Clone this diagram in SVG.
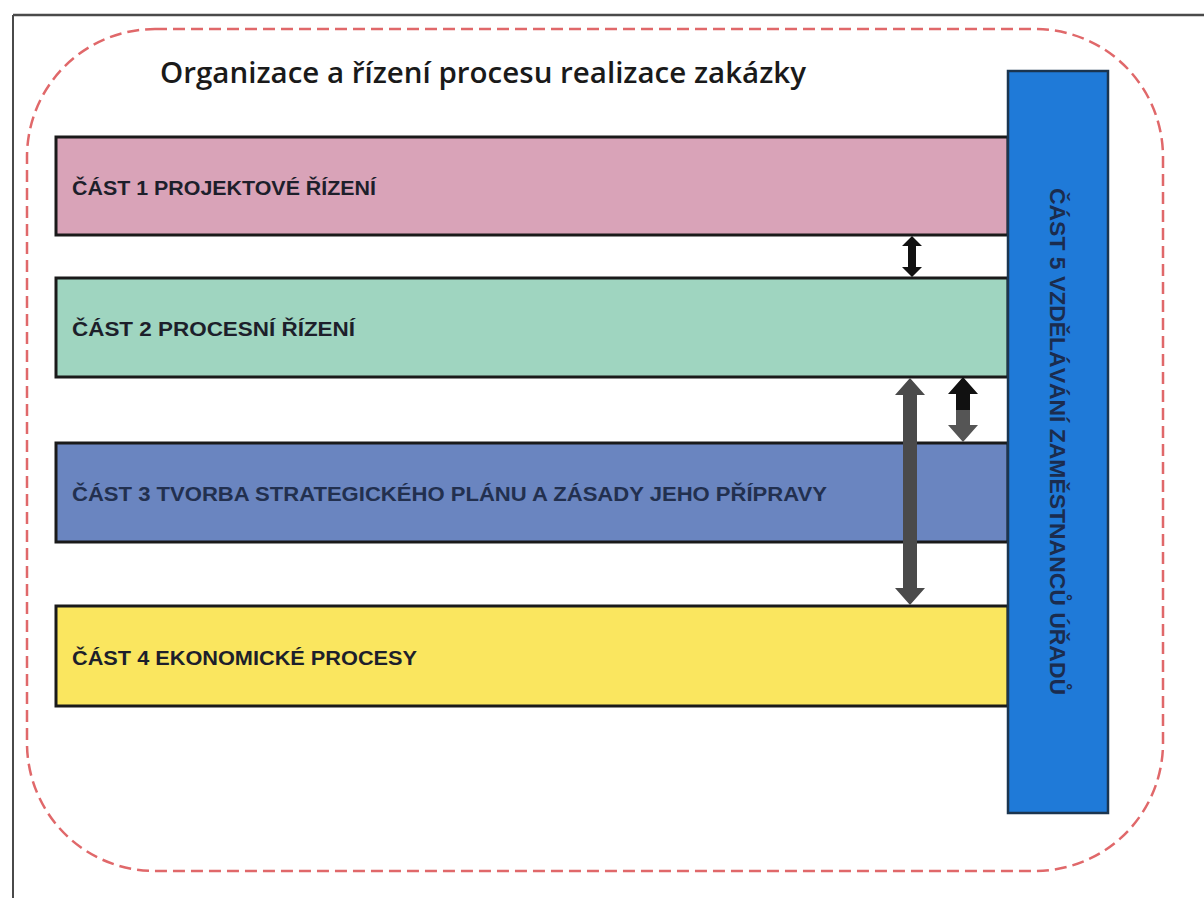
<svg xmlns="http://www.w3.org/2000/svg" width="1204" height="898" viewBox="0 0 1204 898">
<defs>
<style>
.bar{stroke:#1a1a1a;stroke-width:3}
.lbl{font-family:"Liberation Sans","DejaVu Sans",sans-serif;font-weight:bold;font-size:21px;fill:#1d1f2b}
.title{font-family:"Open Sans","Liberation Sans",sans-serif;font-weight:600;font-size:28px;fill:#1a1a1a}
</style>
</defs>
<rect width="1204" height="898" fill="#ffffff"/>
<g id="frame">
<line x1="13" y1="15" x2="1204" y2="15" stroke="#4a4a4a" stroke-width="2.5"/>
<line x1="13" y1="15" x2="13" y2="898" stroke="#4a4a4a" stroke-width="2"/>
<rect x="27" y="29" width="1136" height="842" rx="128" ry="128" fill="none" stroke="#e0686a" stroke-width="2.5" stroke-dasharray="12 6"/>
</g>
<g id="title">
<text class="title" x="160" y="83" textLength="646" lengthAdjust="spacingAndGlyphs">Organizace a řízení procesu realizace zakázky</text>
</g>
<g id="part1">
<rect class="bar" x="56" y="137" width="952" height="98" fill="#d9a3b8"/>
<text class="lbl" x="72" y="195" textLength="304" lengthAdjust="spacingAndGlyphs">ČÁST 1 PROJEKTOVÉ ŘÍZENÍ</text>
</g>
<g id="part2">
<rect class="bar" x="56" y="278" width="952" height="99" fill="#9fd5c0"/>
<text class="lbl" x="72" y="336" textLength="283" lengthAdjust="spacingAndGlyphs">ČÁST 2 PROCESNÍ ŘÍZENÍ</text>
</g>
<g id="part3">
<rect class="bar" x="56" y="443" width="952" height="99" fill="#6a85c0"/>
<text class="lbl" x="72" y="501" textLength="755" lengthAdjust="spacingAndGlyphs" style="fill:#22304f">ČÁST 3 TVORBA STRATEGICKÉHO PLÁNU A ZÁSADY JEHO PŘÍPRAVY</text>
</g>
<g id="part4">
<rect class="bar" x="56" y="606" width="952" height="100" fill="#fae65f"/>
<text class="lbl" x="72" y="665" textLength="345" lengthAdjust="spacingAndGlyphs">ČÁST 4 EKONOMICKÉ PROCESY</text>
</g>
<g id="part5">
<rect x="1008" y="71" width="100" height="742" fill="#1f7ad8" stroke="#1b3550" stroke-width="2.5"/>
<text class="lbl" transform="translate(1050,188) rotate(90)" x="0" y="0" textLength="507" lengthAdjust="spacingAndGlyphs" style="font-size:22px;fill:#1b2c4e">ČÁST 5 VZDĚLÁVÁNÍ ZAMĚSTNANCŮ ÚŘADŮ</text>
</g>
<g id="connectors">
<polygon points="912,236 922,246 916,246 916,267 922,267 912,277 902,267 908,267 908,246 902,246" fill="#111111"/>
<polygon points="963,377 978,394 970,394 970,410 956,410 956,394 948,394" fill="#111111"/>
<polygon points="956,410 970,410 970,425 978,425 963,442 948,425 956,425" fill="#555555"/>
<polygon points="910,378 925,395 917,395 917,588 925,588 910,605 895,588 903,588 903,395 895,395" fill="#4a4a4a"/>
</g>
</svg>
